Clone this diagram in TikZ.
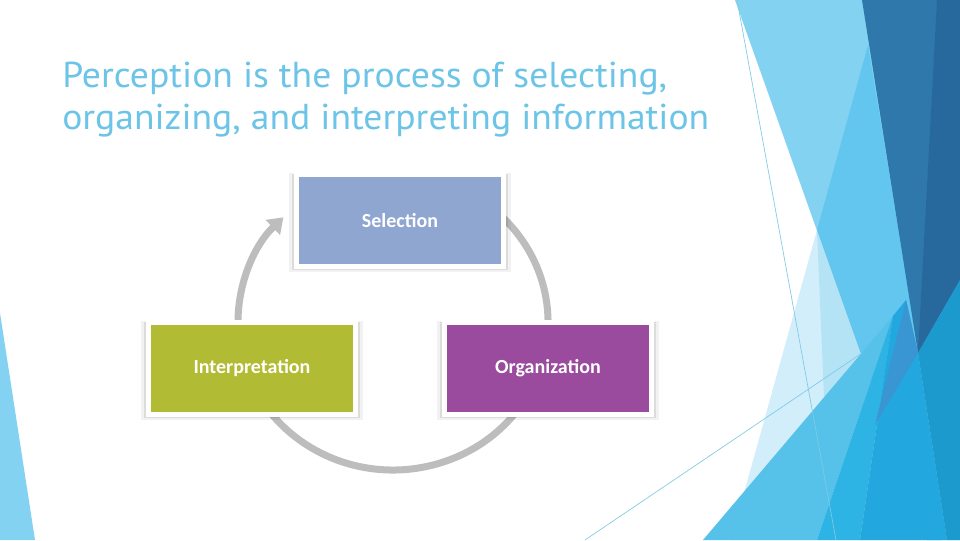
\documentclass[tikz,border=0pt]{standalone}
\usepackage{fontspec}
\usepackage{xcolor}
\usepackage{tikz}
\usetikzlibrary{arrows.meta, positioning, shadows}
\newfontfamily\titlefont[FakeStretch=1.045]{PT Sans}
\newfontfamily\stagefont{Carlito}
\definecolor{titleBlue}{HTML}{6CC4E7}
\definecolor{selBlue}{HTML}{8FA6D0}
\definecolor{interpOlive}{HTML}{B2BB34}
\definecolor{orgPurple}{HTML}{9A4B9D}
\definecolor{cycleGray}{HTML}{BDBDBD}
\definecolor{facetSky}{HTML}{84D2F1}
\definecolor{facetPale}{HTML}{D2EEFA}
\definecolor{facetBand}{HTML}{B5E3F6}
\definecolor{facetCyan}{HTML}{62C6EE}
\definecolor{facetDark}{HTML}{2E78AC}
\definecolor{facetDeep}{HTML}{28699D}
\definecolor{facetSea}{HTML}{56C1E9}
\definecolor{facetBright}{HTML}{2DB3E4}
\definecolor{facetAzure}{HTML}{22A8DE}
\definecolor{facetBlue}{HTML}{3A95D3}
\definecolor{facetOcean}{HTML}{1D9ACD}
\definecolor{facetLine}{HTML}{7ECBE6}

\begin{document}
\begin{tikzpicture}[x=0.75pt, y=-0.75pt,
        titletext/.style={font=\titlefont\fontsize{27}{31.5}\selectfont, text=titleBlue, inner sep=0pt},
        stage/.style={rectangle, draw=white, line width=3.75pt, minimum width=155pt, minimum height=69pt,
            font=\stagefont\bfseries\fontsize{15}{18}\selectfont, text=white,
            drop shadow={shadow xshift=0pt, shadow yshift=-1.5pt, shadow scale=1.075, opacity=0.05, fill=black},
            drop shadow={shadow xshift=0pt, shadow yshift=-1pt, shadow scale=1.045, opacity=0.09, fill=black}},
        cycle/.style={line width=5.25pt, color=cycleGray, -{Triangle[width=15pt, length=11pt]}}]
        \useasboundingbox (0,0) rectangle (960,540);
        \fill[white] (0,0) rectangle (960,540);

        % Background facets
        \fill[facetSky] (0,313) -- (35,540) -- (0,540) -- cycle;
        \fill[facetSky] (735,0) -- (960,0) -- (960,540) -- (927,540) -- cycle;
        \fill[facetPale] (817,230) -- (927,540) -- (731,540) -- cycle;
        \fill[facetBand] (817,230) -- (927,540) -- (830,540) -- cycle;
        \fill[facetCyan] (868,45) -- (917,343) -- (941,540) -- (927,540) -- (817,230) -- cycle;
        \fill[facetDark] (862,0) -- (960,0) -- (960,280) -- (918,353) -- cycle;
        \fill[facetDeep] (937,0) -- (960,0) -- (960,280) -- (918,353) -- cycle;
        \fill[facetSea] (703,540) -- (893,316) -- (817,540) -- cycle;
        \fill[facetBright] (893,316) -- (860,540) -- (817,540) -- cycle;
        \fill[facetAzure] (893,316) -- (906,300) -- (918,353) -- (947,540) -- (860,540) -- cycle;
        \fill[facetBlue] (906,300) -- (918,353) -- (875,425) -- cycle;
        \fill[facetOcean] (918,353) -- (960,280) -- (960,540) -- (947,540) -- cycle;
        \draw[facetLine, line width=0.5pt] (737,0) -- (836,540);
        \draw[facetLine, line width=0.5pt] (585,540) -- (862,353);

        % Title
        \node[titletext, anchor=base west] (title) at (62,87) {Perception is the process of selecting,};
        \node[titletext, below=31.5pt of title.base west, anchor=base west] (title2) {organizing, and interpreting information};

        % Cycle
        \coordinate (hub) at (393,322);
        \draw[cycle] ([shift={(-60:155 and 148)}]hub) arc[start angle=-60, end angle=225, x radius=155, y radius=148];

        % Stages
        \node[stage, fill=selBlue] (sel) at (400,220.5) {Selection};
        \node[stage, fill=interpOlive, left of=sel, node distance=111pt, yshift=-111pt] (interp) {Interpretation};
        \node[stage, fill=orgPurple, right of=sel, node distance=111pt, yshift=-111pt] (org) {Organization};
    \end{tikzpicture}
\end{document}
